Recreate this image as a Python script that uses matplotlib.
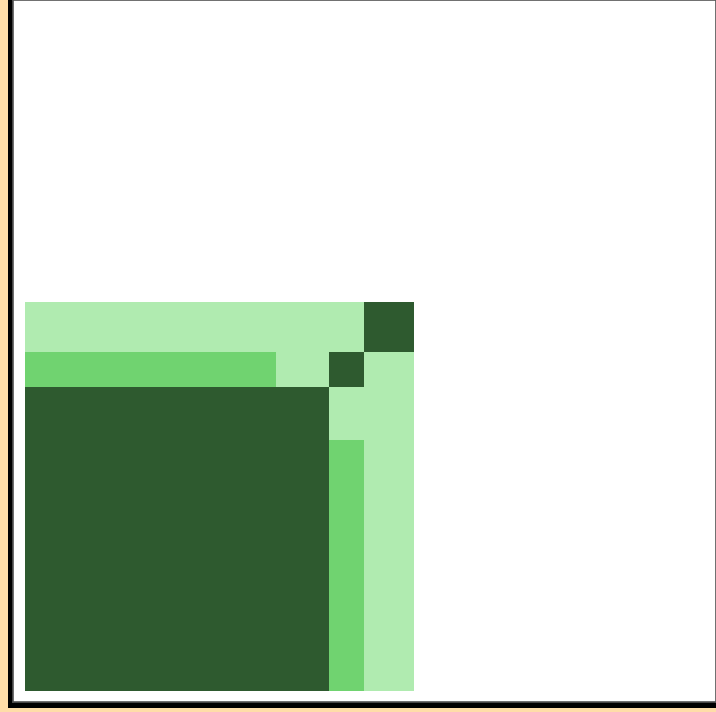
import numpy as np
import matplotlib.pyplot as plt
from matplotlib.colors import ListedColormap
from matplotlib.patches import Rectangle

# block sizes (same order along x and y)
group_sizes = [251, 53, 35, 50]
# level of each cell: 0 = light, 1 = medium, 2 = dark (rows from bottom)
levels = [
    [2, 2, 1, 0],
    [2, 2, 0, 0],
    [1, 0, 2, 0],
    [0, 0, 0, 2],
]
level_colors = ['#B0EBB0', '#70D370', '#2E5A2F']

W, H = 716, 712
fig = plt.figure(figsize=(W / 100, H / 100), dpi=100, facecolor='#FFDDA8')

# dark frame on the left and bottom of the panel
fig.patches.append(Rectangle((8 / W, 4 / H), 708 / W, 708 / H,
                             transform=fig.transFigure, facecolor='black',
                             edgecolor='none', zorder=-1))

ax = fig.add_axes([13 / W, 10 / H, 703 / W, 702 / H])
ax.set_zorder(1)
ax.set_facecolor('white')

edges = np.concatenate([[0], np.cumsum(group_sizes)])
cmap = ListedColormap(level_colors)
ax.pcolormesh(edges, edges, np.array(levels), cmap=cmap, vmin=-0.5, vmax=2.5,
              edgecolor='none', antialiased=False)

ax.set_xlim(-12, 691)
ax.set_ylim(-11, 691)
ax.set_xticks([])
ax.set_yticks([])
for s in ax.spines.values():
    s.set_color('#555555')
    s.set_linewidth(1.2)

plt.savefig('out.png', dpi=100, facecolor=fig.get_facecolor())
